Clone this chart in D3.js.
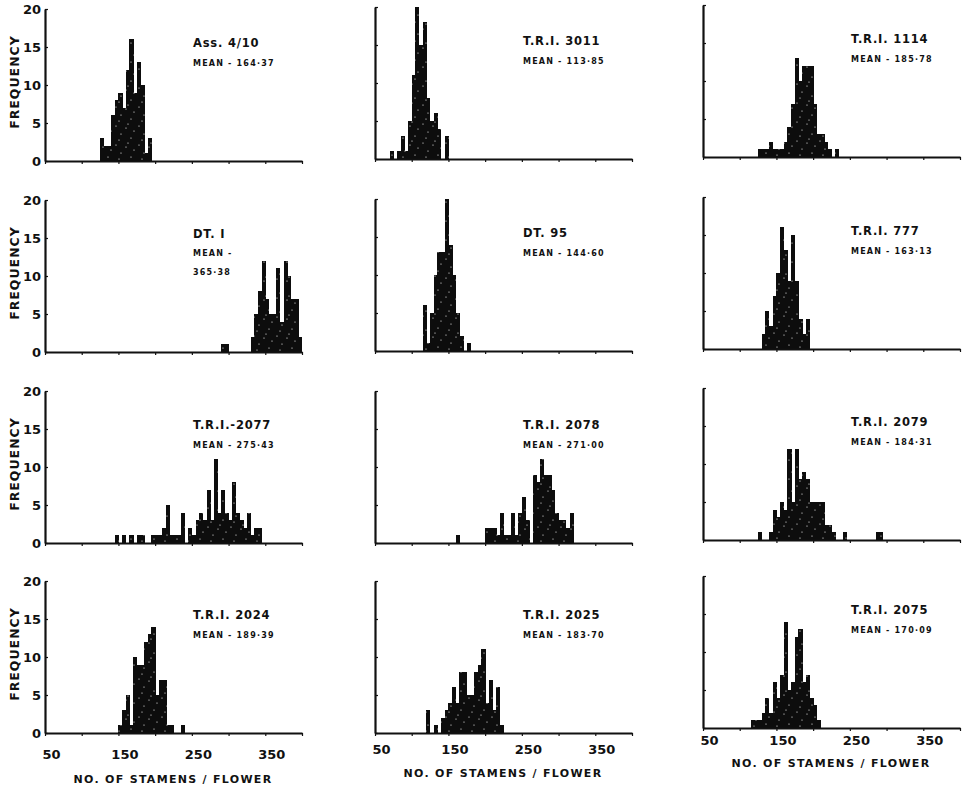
<!DOCTYPE html>
<html>
<head>
<meta charset="utf-8">
<script src="https://cdn.jsdelivr.net/npm/d3@7"></script>
<style>
  body { margin: 0; background: #fff; }
  svg { display: block; }
  text { font-family: "DejaVu Sans", sans-serif; font-weight: bold; fill: #111; }
</style>
</head>
<body>
<svg id="chart" width="967" height="786"></svg>
<script>
// Stamen counts per flower, binned in steps of 5
const BIN = 5;
const titles = ["Ass. 4/10", "T.R.I. 3011", "T.R.I. 1114",
                "DT. I", "DT. 95", "T.R.I. 777",
                "T.R.I.-2077", "T.R.I. 2078", "T.R.I. 2079",
                "T.R.I. 2024", "T.R.I. 2025", "T.R.I. 2075"];
const means = ["164·37", "113·85", "185·78",
               "365·38", "144·60", "163·13",
               "275·43", "271·00", "184·31",
               "189·39", "183·70", "170·09"];
// first bin (lower edge) of each panel
const binStarts = [125, 70, 125, 290, 115, 130, 145, 160, 125, 150, 120, 115];

const freqAss410 = [3, 2, 2, 6, 8, 9, 7, 12, 16, 9, 13, 10, 1, 3];
const freqTRI3011 = [1, 0, 1, 3, 1, 5, 11, 20, 15, 18, 8, 5, 6, 4, 0, 3];
const freqTRI1114 = [1, 1, 1, 2, 1, 1, 1, 2, 4, 7, 13, 10, 12, 12, 12, 7, 3, 3, 2, 1, 0, 1];
const freqDT1 = [1, 1, 0, 0, 0, 0, 0, 0, 2, 5, 8, 12, 7, 5, 5, 11, 4, 12, 10, 7, 7, 2];
const freqDT95 = [6, 1, 5, 10, 13, 13, 20, 14, 10, 5, 2, 0, 1];
const freqTRI777 = [2, 5, 3, 7, 10, 16, 13, 9, 15, 9, 4, 2, 4];
const freqTRI2077 = [1, 0, 1, 0, 1, 0, 1, 1, 0, 0, 1, 1, 1, 2, 5, 1, 1, 1, 4, 0,
                     2, 1, 3, 4, 3, 7, 3, 11, 4, 7, 4, 3, 8, 4, 3, 2, 4, 1, 2, 2];
const freqTRI2078 = [1, 0, 0, 0, 0, 0, 0, 0, 2, 2, 2, 1, 4, 1, 1, 4, 1, 4, 6, 3,
                     0, 9, 8, 11, 9, 9, 7, 4, 3, 3, 2, 4];
const freqTRI2079 = [1, 0, 0, 1, 4, 3, 5, 4, 12, 5, 12, 8, 9, 8, 5, 5, 5, 5, 2, 2,
                     1, 0, 0, 1, 0, 0, 0, 0, 0, 0, 0, 0, 1, 1];
const freqTRI2024 = [1, 3, 5, 1, 10, 9, 9, 12, 13, 14, 5, 7, 7, 1, 1, 0, 0, 1];
const freqTRI2025 = [3, 0, 1, 0, 2, 3, 4, 6, 4, 8, 8, 5, 5, 8, 9, 11, 4, 7, 3, 6, 1];
const freqTRI2075 = [1, 1, 1, 2, 4, 2, 6, 4, 7, 14, 5, 6, 12, 13, 6, 7, 4, 3, 1];

const freqs = [freqAss410, freqTRI3011, freqTRI1114,
               freqDT1, freqDT95, freqTRI777,
               freqTRI2077, freqTRI2078, freqTRI2079,
               freqTRI2024, freqTRI2025, freqTRI2075];

const xTicks = [50, 100, 150, 200, 250, 300, 350, 400];
const xTickLabels = [50, 150, 250, 350];
const yTicks = [0, 5, 10, 15, 20];

// layout
const colX = [45, 375, 703];
const rowBase = [[161, 352, 543, 733], [159, 351, 543, 733], [157, 349, 540, 728]];
const axisLen = 257, axisH = 152;
const labelPad = [17, 12, 8];
const titleOff = [50, 44, 39];

const svg = d3.select("#chart");

// stippled fill like the printed bars (irregular specks so no streaks form)
const defs = svg.append("defs");
const pat = defs.append("pattern")
    .attr("id", "stipple")
    .attr("patternUnits", "userSpaceOnUse")
    .attr("width", 23).attr("height", 19);
pat.append("rect").attr("width", 23).attr("height", 19).attr("fill", "#0d0d0d");
[[2, 3], [7, 11], [12, 5], [17, 15], [20, 8], [5, 17], [14, 1]].forEach(([cx, cy]) =>
    pat.append("circle").attr("cx", cx).attr("cy", cy).attr("r", 0.6).attr("fill", "#fff"));

const x = d3.scaleLinear().domain([50, 400]).range([0, axisLen]);
const y = d3.scaleLinear().domain([0, 20]).range([axisH, 0]);

freqs.forEach((freq, i) => {
    const col = i % 3, row = Math.floor(i / 3);
    const base = rowBase[col][row];
    const g = svg.append("g")
        .attr("transform", `translate(${colX[col]},${base - axisH})`);

    // bars
    const bins = freq.map((f, k) => ({ x0: binStarts[i] + k * BIN, f }))
        .filter((d) => d.f > 0);
    g.selectAll(".bar")
        .data(bins)
        .join("rect")
        .attr("class", "bar")
        .attr("x", (d) => x(d.x0))
        .attr("width", (d) => x(d.x0 + BIN) - x(d.x0) + 0.4)
        .attr("y", (d) => y(d.f))
        .attr("height", (d) => axisH - y(d.f))
        .attr("shape-rendering", "crispEdges")
        .attr("fill", "url(#stipple)");

    // x axis
    const xa = g.append("g")
        .attr("transform", `translate(0,${axisH})`)
        .call(d3.axisBottom(x).tickValues(xTicks).tickSize(3).tickSizeOuter(0).tickFormat(""));
    xa.select(".domain").attr("stroke", "#111").attr("stroke-width", 2.2);
    xa.selectAll(".tick line").attr("stroke", "#111").attr("stroke-width", 1.2);

    // y axis
    const ya = g.append("g")
        .call(d3.axisLeft(y).tickValues(yTicks).tickSize(-3).tickSizeOuter(0)
            .tickPadding(4)
            .tickFormat(col === 0 ? d3.format("d") : ""));
    ya.select(".domain").attr("stroke", "#111").attr("stroke-width", 2.2);
    ya.selectAll(".tick line").attr("stroke", "#111").attr("stroke-width", 1.2);
    ya.selectAll("text").style("font-size", "13px").attr("fill", "#111");

    if (col === 0) {
        g.append("text")
            .attr("transform", `translate(-26,${axisH - 79}) rotate(-90)`)
            .attr("text-anchor", "middle")
            .style("font-size", "12.5px")
            .style("letter-spacing", "1px")
            .text("FREQUENCY");
    }

    if (row === 3) {
        const la = g.append("g")
            .attr("transform", `translate(0,${axisH})`)
            .call(d3.axisBottom(x).tickValues(xTickLabels).tickSize(0)
                .tickPadding(labelPad[col]).tickFormat(d3.format("d")));
        la.select(".domain").remove();
        la.selectAll("text").style("font-size", "13px").attr("fill", "#111").attr("dx", 6);

        g.append("text")
            .attr("x", 128)
            .attr("y", axisH + titleOff[col])
            .attr("text-anchor", "middle")
            .style("font-size", "11px")
            .style("letter-spacing", "1.3px")
            .text("NO. OF STAMENS / FLOWER");
    }

    // panel annotation
    g.append("text")
        .attr("x", 148)
        .attr("y", axisH - 114)
        .style("font-size", "11.5px")
        .style("letter-spacing", "0.8px")
        .text(titles[i]);
    if (i === 3) {
        g.append("text").attr("x", 148).attr("y", axisH - 96)
            .style("font-size", "8px").style("letter-spacing", "1.2px")
            .text("MEAN -");
        g.append("text").attr("x", 148).attr("y", axisH - 77)
            .style("font-size", "8px").style("letter-spacing", "1.2px")
            .text(means[i]);
    } else {
        g.append("text").attr("x", 148).attr("y", axisH - 95)
            .style("font-size", "8px").style("letter-spacing", "1.2px")
            .text("MEAN - " + means[i]);
    }
});
</script>
</body>
</html>
